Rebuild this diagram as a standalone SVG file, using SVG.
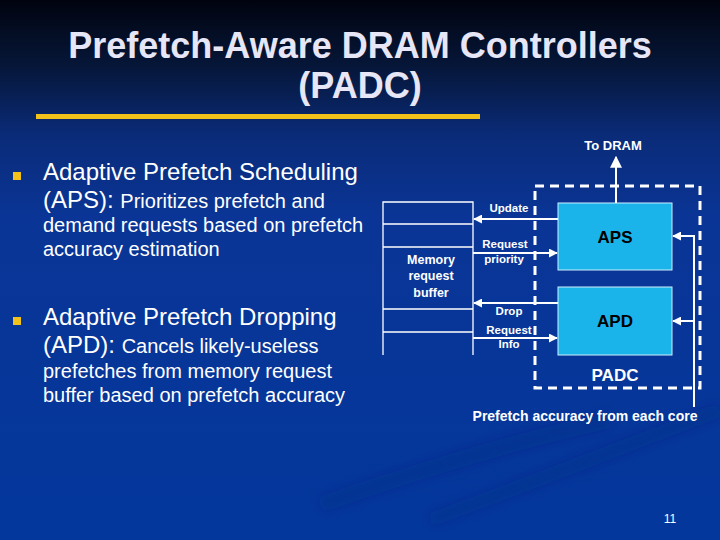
<svg xmlns="http://www.w3.org/2000/svg" width="720" height="540" viewBox="0 0 720 540">
<defs>
<linearGradient id="bg" x1="0" y1="0" x2="0" y2="1">
<stop offset="0" stop-color="#01040f"/>
<stop offset="0.12" stop-color="#061638"/>
<stop offset="0.25" stop-color="#0a2b78"/>
<stop offset="0.4" stop-color="#0a3596"/>
<stop offset="1" stop-color="#03379c"/>
</linearGradient>
<filter id="soft" x="-20%" y="-50%" width="140%" height="200%"><feGaussianBlur stdDeviation="6"/></filter>
<marker id="ah" viewBox="0 0 10 10" refX="9" refY="5" markerWidth="9" markerHeight="9" markerUnits="userSpaceOnUse" orient="auto">
<path d="M0,0 L10,5 L0,10 z" fill="#ffffff"/>
</marker>
<marker id="ahBig" viewBox="0 0 10 10" refX="9" refY="5" markerWidth="12" markerHeight="12" markerUnits="userSpaceOnUse" orient="auto">
<path d="M0,0 L10,5 L0,10 z" fill="#ffffff"/>
</marker>
<style>
.title{font-family:"Liberation Sans",Arial,sans-serif;font-weight:bold;font-size:36px;fill:#e6e6f6;text-anchor:middle}
.big{font-family:"Liberation Sans",Arial,sans-serif;font-size:24px;fill:#ffffff}
.mid{font-size:20px}
.lbl{font-family:"Liberation Sans",Arial,sans-serif;font-weight:bold;fill:#ffffff;text-anchor:middle}
.ln{stroke:#ffffff;stroke-width:1.3;fill:none}
.arr{stroke:#ffffff;stroke-width:2;fill:none}
.box{fill:#1ab4ea;stroke:#cfefff;stroke-width:1}
.swirl{fill:none;stroke:#001e6e;opacity:0.22}
</style>
</defs>
<rect width="720" height="540" fill="url(#bg)"/>
<g filter="url(#soft)">
<path class="swirl" d="M320,505 C420,470 520,440 610,420" stroke-width="16"/>
<path class="swirl" d="M430,520 C540,480 640,440 720,410" stroke-width="14"/>
</g>

<g id="title">
<text class="title" x="360" y="58">Prefetch-Aware DRAM Controllers</text>
<text class="title" x="360" y="98">(PADC)</text>
<rect x="36" y="114" width="444" height="5" fill="#f2c21b"/>
</g>

<g id="bullets">
<rect x="13" y="172" width="8" height="8" fill="#f2c21b"/>
<text class="big" x="43" y="180">Adaptive Prefetch Scheduling</text>
<text class="big" x="43" y="208">(APS): <tspan class="mid">Prioritizes prefetch and</tspan></text>
<text class="big mid" x="43" y="232">demand requests based on prefetch</text>
<text class="big mid" x="43" y="256">accuracy estimation</text>
<rect x="13" y="317" width="8" height="8" fill="#f2c21b"/>
<text class="big" x="43" y="325">Adaptive Prefetch Dropping</text>
<text class="big" x="43" y="353">(APD): <tspan class="mid">Cancels likely-useless</tspan></text>
<text class="big mid" x="43" y="378">prefetches from memory request</text>
<text class="big mid" x="43" y="402">buffer based on prefetch accuracy</text>
</g>

<g id="buffer">
<path class="ln" d="M383,355 V202 H473 V355 M383,224 H473 M383,247 H473 M383,309 H473 M383,332 H473"/>
<text class="lbl" x="431" y="264" font-size="12.5">Memory</text>
<text class="lbl" x="431" y="280" font-size="12.5">request</text>
<text class="lbl" x="431" y="297" font-size="12.5">buffer</text>
</g>

<g id="padc">
<rect x="535" y="186" width="165" height="202" fill="none" stroke="#ffffff" stroke-width="3" stroke-dasharray="9,6"/>
<text class="lbl" x="615" y="381" font-size="17">PADC</text>
</g>

<g id="aps">
<rect class="box" x="558" y="203" width="114" height="67"/>
<text class="lbl" x="615" y="243" font-size="17" style="fill:#000000">APS</text>
</g>

<g id="apd">
<rect class="box" x="558" y="287" width="114" height="68"/>
<text class="lbl" x="615" y="327" font-size="17" style="fill:#000000">APD</text>
</g>

<g id="connectors">
<line class="arr" x1="616" y1="203" x2="616" y2="157" marker-end="url(#ahBig)"/>
<line class="arr" x1="558" y1="219" x2="474" y2="219" marker-end="url(#ah)"/>
<line class="arr" x1="473" y1="253" x2="557" y2="253" marker-end="url(#ah)"/>
<line class="arr" x1="558" y1="303" x2="474" y2="303" marker-end="url(#ah)"/>
<line class="arr" x1="473" y1="338" x2="557" y2="338" marker-end="url(#ah)"/>
<path class="arr" d="M694,407 V236 H673" marker-end="url(#ah)"/>
<line class="arr" x1="694" y1="321" x2="673" y2="321" marker-end="url(#ah)"/>
</g>

<g id="labels">
<text class="lbl" x="613" y="150" font-size="13">To DRAM</text>
<text class="lbl" x="509" y="212" font-size="11.5">Update</text>
<text class="lbl" x="505" y="248" font-size="11.5">Request</text>
<text class="lbl" x="504" y="263" font-size="11.5">priority</text>
<text class="lbl" x="509" y="315" font-size="11.5">Drop</text>
<text class="lbl" x="509" y="334" font-size="11.5">Request</text>
<text class="lbl" x="509" y="348" font-size="11.5">Info</text>
<text class="lbl" x="585" y="421" font-size="14">Prefetch accuracy from each core</text>
</g>

<text x="670" y="523" font-family="Liberation Sans,Arial,sans-serif" font-size="12" fill="#ffffff" text-anchor="middle">11</text>
</svg>
